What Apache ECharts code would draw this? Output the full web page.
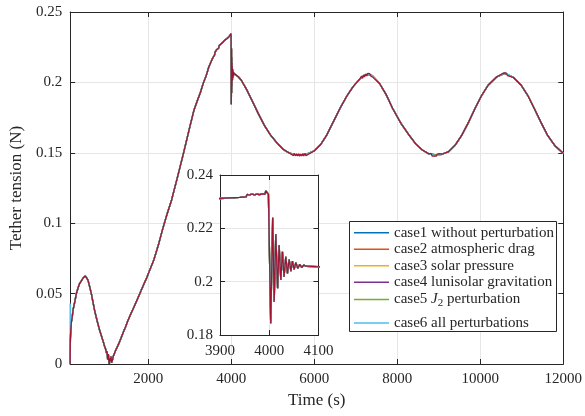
<!DOCTYPE html>
<html>
<head>
<meta charset="utf-8">
<script src="https://cdn.jsdelivr.net/npm/echarts@6/dist/echarts.min.js"></script>
<style>
    html, body { margin: 0; padding: 0; background: #fff; }
    #chart { width: 585px; height: 416px; }
</style>
</head>
<body>
<div id="chart"></div>
<script>
// tether tension (time in s, tension in N)
var timeData = [
    120, 125, 135, 150, 167, 190, 230, 271, 310, 350, 390, 429, 486, 520, 548, 590,
    629, 670, 707, 750, 786, 830, 867, 900, 929, 950, 970, 986, 1000, 1010, 1024, 1040,
    1055, 1064, 1080, 1095, 1105, 1120, 1140, 1160, 1180, 1200, 1224, 1260, 1300, 1343,
    1400, 1450, 1500, 1580, 1660, 1740, 1819, 1900, 1976, 2000, 2136, 2250, 2350, 2450,
    2564, 2700, 2850, 3000, 3100, 3190, 3260, 3326, 3400, 3462, 3550, 3600, 3610, 3643,
    3700, 3710, 3740, 3800, 3810, 3843, 3900, 3920, 3940, 3953, 3955, 3960, 3965, 3970,
    3975, 3980, 3985, 3991, 3993, 3995, 3997, 3998.3, 4003, 4007, 4010, 4013.3, 4017, 4020,
    4023.5, 4026.8, 4030, 4033.6, 4037, 4040.4, 4044, 4047, 4050.5, 4054, 4058, 4062,
    4066, 4070, 4075, 4100, 4170, 4240, 4380, 4516, 4650, 4795, 4950, 5112, 5250, 5390,
    5520, 5668, 5830, 6000, 6150, 6302, 6460, 6620, 6780, 6937, 7100, 7200, 7295, 7400,
    7571, 7730, 7890, 8088, 8286, 8450, 8605, 8760, 8921, 9080, 9238, 9400, 9557, 9720,
    9874, 10030, 10190, 10400, 10588, 10800, 10986, 11150, 11302, 11460, 11619, 11800, 12000
];
var tensionData = [
    0, 0.017, 0.024, 0.030, 0.0325, 0.0384, 0.044, 0.0502, 0.054, 0.0573, 0.059, 0.0609, 0.0625, 0.0615, 0.0597, 0.055,
    0.0502, 0.044, 0.0384, 0.033, 0.0289, 0.024, 0.0206, 0.0175, 0.0147, 0.0125, 0.011, 0.0099, 0.0075, 0.009, 0.003, 0.007,
    0.0015, 0, 0.004, 0.002, 0.0052, 0.001, 0.003, 0.0055, 0.0065, 0.0085, 0.0099, 0.0125, 0.015, 0.0182,
    0.0225, 0.026, 0.030, 0.0355, 0.0407, 0.046, 0.0514, 0.057, 0.062, 0.064, 0.0739, 0.085, 0.096, 0.106,
    0.1165, 0.132, 0.1496, 0.168, 0.180, 0.1875, 0.193, 0.1993, 0.205, 0.2111, 0.217, 0.2195, 0.2215, 0.223,
    0.2245, 0.2262, 0.227, 0.2285, 0.2298, 0.230, 0.2312, 0.2314, 0.2316, 0.2318, 0.2327, 0.2325, 0.2329, 0.2325,
    0.2329, 0.2326, 0.2329, 0.2328, 0.234, 0.2345, 0.2338, 0.2328, 0.1844, 0.224, 0.1925, 0.2178, 0.1975, 0.2137,
    0.2006, 0.2112, 0.2018, 0.2093, 0.2031, 0.2083, 0.2039, 0.2077, 0.2046, 0.2071, 0.205, 0.2065,
    0.2053, 0.2062, 0.2058, 0.2056, 0.204, 0.2017, 0.1945, 0.1863, 0.178, 0.1697, 0.1625, 0.1567, 0.1525, 0.150,
    0.1488, 0.1484, 0.1492, 0.1513, 0.1557, 0.1626, 0.172, 0.1815, 0.190, 0.197, 0.2025, 0.2048, 0.2058, 0.2048,
    0.1994, 0.1915, 0.1815, 0.171, 0.1626, 0.1562, 0.152, 0.1493, 0.1484, 0.1490, 0.1508, 0.1556, 0.1626, 0.1718,
    0.1815, 0.1905, 0.198, 0.2040, 0.2064, 0.2035, 0.198, 0.1905, 0.1815, 0.1718, 0.1626, 0.155, 0.1496
];

// small ripple of the dark red trace around each extremum (thick red patches)
var rippleTime = [
    5500, 5525, 5550, 5575, 5600, 5625, 5650, 5675, 5700, 5725, 5750, 5775, 5800,
    7140, 7165, 7190, 7215, 7240, 7265, 7290, 7315, 7340, 7365, 7390, 7415, 7440,
    8790, 8815, 8840, 8865, 8890, 8915, 8940, 8965, 8990, 9015, 9040,
    10480, 10505, 10530, 10555, 10580, 10605, 10630, 10655, 10680
];
var rippleTension = [
    0.1480, 0.1496, 0.1478, 0.1494, 0.1477, 0.1493, 0.1476, 0.1492, 0.1477, 0.1493, 0.1478, 0.1495, 0.1480,
    0.2046, 0.2028, 0.2054, 0.2038, 0.2061, 0.2045, 0.2064, 0.2050, 0.2062, 0.2044, 0.2055, 0.2036, 0.2045,
    0.1482, 0.1496, 0.1477, 0.1491, 0.1476, 0.1490, 0.1476, 0.1491, 0.1478, 0.1494, 0.1483,
    0.2052, 0.2040, 0.2062, 0.2050, 0.2068, 0.2055, 0.2066, 0.2048, 0.2058
];

// case6 differs a little: spike at the start and slightly deeper extrema
var case6Start = [[120, 0], [121, 0.043], [135, 0.028]];
var case6Edits = { 8921: 0.1478, 10588: 0.2070 };

var legendNames = [
    'case1 without perturbation',
    'case2 atmospheric drag',
    'case3 solar pressure',
    'case4 lunisolar gravitation',
    'case5 J2 perturbation',
    'case6 all perturbations'
];
var caseColors = ['#0072BD', '#D95319', '#EDB120', '#7E2F8E', '#77AC30', '#4DBEEE'];
var topColor = '#A2142F';

var xTicks = [2000, 4000, 6000, 8000, 10000, 12000];

var font = 'Liberation Serif';
var ink = '#262626';

function basePairs() {
    var out = [];
    for (var i = 0; i < timeData.length; i++) {
        out.push([timeData[i], tensionData[i]]);
    }
    return out;
}

function case6Pairs() {
    var out = case6Start.slice();
    for (var i = 0; i < timeData.length; i++) {
        if (timeData[i] <= 135) continue;
        var v = case6Edits[timeData[i]] !== undefined ? case6Edits[timeData[i]] : tensionData[i];
        out.push([timeData[i], v]);
    }
    return out;
}

function topPairs() {
    var out = basePairs();
    for (var i = 0; i < rippleTime.length; i++) {
        out.push([rippleTime[i], rippleTension[i]]);
    }
    out.sort(function (a, b) { return a[0] - b[0]; });
    return out;
}

function buildSeries(xi, yi, z) {
    var list = [];
    for (var i = 0; i < legendNames.length; i++) {
        list.push({
            name: legendNames[i],
            type: 'line',
            xAxisIndex: xi,
            yAxisIndex: yi,
            data: i === 5 ? case6Pairs() : basePairs(),
            symbol: 'none',
            color: caseColors[i],
            lineStyle: { width: 1.4, color: caseColors[i] },
            z: z,
            animation: false
        });
    }
    // dark red trace drawn on top
    list.push({
        name: 'top',
        type: 'line',
        xAxisIndex: xi,
        yAxisIndex: yi,
        data: topPairs(),
        symbol: 'none',
        lineStyle: { width: 1.2, color: topColor },
        z: z,
        animation: false
    });
    return list;
}

function plainNum(v) {
    return String(+v.toFixed(4));
}

function boxAxis(pos, gridIndex, min, max, extra) {
    var a = {
        type: 'value',
        gridIndex: gridIndex,
        position: pos,
        min: min,
        max: max,
        axisLine: { show: true, onZero: false, lineStyle: { color: ink, width: 1 } },
        axisTick: { show: true, inside: true, length: 5, lineStyle: { color: ink } },
        axisLabel: { show: false },
        splitLine: { show: false }
    };
    for (var k in extra) a[k] = extra[k];
    return a;
}

var chart = echarts.init(document.getElementById('chart'), null, { renderer: 'canvas' });

var gridLine = { show: true, lineStyle: { color: '#e6e6e6', width: 1 } };

function tickLabels(margin, custom) {
    var l = { show: true, margin: margin, fontFamily: font, fontSize: 15, color: ink, formatter: plainNum };
    if (custom) l.customValues = custom;
    return l;
}

// legend text style shared by both legend blocks
var legendText = {
    fontFamily: font, fontSize: 15, color: ink, lineHeight: 16.5,
    rich: {
        i: { fontFamily: font, fontSize: 15, fontStyle: 'italic', color: ink, lineHeight: 16.5 },
        s: { fontFamily: font, fontSize: 11, color: ink, lineHeight: 16.5, padding: [7, 0, 0, 0] }
    }
};

function legendBlock(names, top) {
    return {
        data: names,
        orient: 'vertical',
        left: 349,
        top: top,
        z: 10,
        padding: [0, 0, 0, 5],
        itemWidth: 35,
        itemHeight: 1.5,
        itemGap: 0,
        icon: 'rect',
        selectedMode: false,
        formatter: function (name) {
            return name.replace('J2', '{i|J}{s|2}');
        },
        textStyle: legendText
    };
}

var option = {
    backgroundColor: '#fff',
    animation: false,
    grid: [
        { left: 65, top: 12, right: 21.5, bottom: 52 },
        { left: 220, top: 175, width: 98.5, height: 160, show: true, backgroundColor: '#fff', borderWidth: 0, z: 3 }
    ],
    xAxis: [
        boxAxis('bottom', 0, 120, 12000, {
            axisTick: { show: true, inside: true, length: 5, customValues: xTicks, lineStyle: { color: ink } },
            axisLabel: tickLabels(8, xTicks),
            splitLine: gridLine,
            name: 'Time (s)',
            nameLocation: 'middle',
            nameGap: 28,
            nameTextStyle: { fontFamily: font, fontSize: 17, color: ink }
        }),
        boxAxis('top', 0, 120, 12000, {
            axisTick: { show: true, inside: true, length: 5, customValues: xTicks, lineStyle: { color: ink } }
        }),
        boxAxis('bottom', 1, 3900, 4100, {
            interval: 100, z: 4,
            axisLabel: tickLabels(9),
            splitLine: gridLine
        }),
        boxAxis('top', 1, 3900, 4100, { interval: 100, z: 4 })
    ],
    yAxis: [
        boxAxis('left', 0, 0, 0.25, {
            interval: 0.05,
            axisLabel: tickLabels(8),
            splitLine: gridLine,
            name: 'Tether tension (N)',
            nameLocation: 'middle',
            nameGap: 40,
            nameTextStyle: { fontFamily: font, fontSize: 17, color: ink }
        }),
        boxAxis('right', 0, 0, 0.25, { interval: 0.05 }),
        boxAxis('left', 1, 0.18, 0.24, {
            interval: 0.02, z: 4,
            axisLabel: tickLabels(7),
            splitLine: gridLine
        }),
        boxAxis('right', 1, 0.18, 0.24, { interval: 0.02, z: 4 })
    ],
    // legend frame
    graphic: [{
        type: 'rect',
        z: 9,
        shape: { x: 349.5, y: 221.5, width: 207, height: 110 },
        style: { fill: '#fff', stroke: ink, lineWidth: 1 }
    }],
    legend: [
        legendBlock(legendNames.slice(0, 5), 224.5),
        legendBlock(legendNames.slice(5), 314.8)
    ],
    series: buildSeries(0, 0, 2).concat(buildSeries(2, 2, 6))
};

chart.setOption(option);
</script>
</body>
</html>
